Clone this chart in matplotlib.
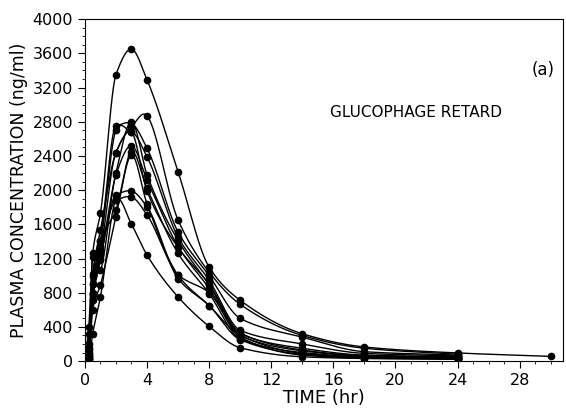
import matplotlib
matplotlib.use("Agg")
import matplotlib.pyplot as plt
import numpy as np

# sampling times (hr)
times = [0, 0.25, 0.5, 1, 2, 3, 4, 6, 8, 10, 14, 18, 24, 30]

# plasma concentration (ng/ml) per subject, NaN = not sampled
nan = np.nan
s1 = [0, 400, 1260, 1730, 3350, 3650, 3290, 2215, 1100, 711, 320, 165, 95, 55]
s2 = [0, 320, 1020, 1530, 2440, 2740, 2870, 1650, 1040, 664, 300, 150, 80, nan]
s3 = [0, 125, 900, 1410, 2750, 2780, 2490, 1510, 1000, 500, 280, 110, 70, nan]
s4 = [0, 30, 790, 1340, 2700, 2680, 2390, 1450, 945, 360, 200, 90, 60, nan]
s5 = [0, 60, 710, 1180, 2200, 2800, 2180, 1410, 890, 320, 150, 70, 50, nan]
s6 = [0, 100, 1220, 1060, 2180, 2520, 2120, 1340, 850, 300, 120, 60, 45, nan]
s7 = [0, 200, 1000, 1400, 1770, 2450, 2020, 1260, 790, 260, 100, 50, 40, nan]
s8 = [0, 40, 600, 890, 1690, 2410, 1840, 1004, 650, 300, 90, 45, 35, nan]
s9 = [0, 80, 780, 1200, 1940, 1990, 1805, 965, 650, 250, 80, 40, 30, nan]
s10 = [0, 20, 320, 750, 1880, 1600, 1240, 750, 406, 156, 50, 30, 20, nan]
s11 = [0, 150, 900, 1300, 1880, 1920, 1710, 1010, 800, 280, 70, 35, 25, nan]
s12 = [0, 60, 800, 1250, 2440, 2680, 1990, 1330, 900, 330, 130, 60, 40, nan]
subjects = [s1, s2, s3, s4, s5, s6, s7, s8, s9, s10, s11, s12]


def smooth_curve(x, y, xs):
    # Hermite curve: monotone (pchip) slopes, centred slopes at the peak
    n = len(x)
    h = np.diff(x)
    d = np.diff(y) / h
    m = np.zeros(n)
    for i in range(1, n - 1):
        if d[i - 1] * d[i] > 0:
            w1 = 2 * h[i] + h[i - 1]
            w2 = h[i] + 2 * h[i - 1]
            m[i] = (w1 + w2) / (w1 / d[i - 1] + w2 / d[i])
        else:
            m[i] = 0.6 * (y[i + 1] - y[i - 1]) / (x[i + 1] - x[i - 1])
    m[0] = d[0]
    m[-1] = d[-1]
    idx = np.clip(np.searchsorted(x, xs) - 1, 0, n - 2)
    hh = h[idx]
    s = (xs - x[idx]) / hh
    h00 = 2 * s ** 3 - 3 * s ** 2 + 1
    h10 = s ** 3 - 2 * s ** 2 + s
    h01 = -2 * s ** 3 + 3 * s ** 2
    h11 = s ** 3 - s ** 2
    return h00 * y[idx] + h10 * hh * m[idx] + h01 * y[idx + 1] + h11 * hh * m[idx + 1]


fig = plt.figure(figsize=(5.66, 4.08), dpi=100)
ax = fig.add_axes([0.150, 0.115, 0.845, 0.838])

t = np.array(times, dtype=float)
for s in subjects:
    y = np.array(s, dtype=float)
    ok = ~np.isnan(y)
    tx, ty = t[ok], y[ok]
    xs = np.linspace(tx[0], tx[-1], 800)
    ax.plot(xs, smooth_curve(tx, ty, xs), color="black", lw=1.0)
    ax.plot(tx, ty, "o", color="black", ms=4.5)

ax.set_xlim(0, 30.8)
ax.set_ylim(0, 4000)
ax.set_xticks(np.arange(0, 29, 4))
ax.set_xticks(np.arange(0, 31, 1), minor=True)
ax.set_yticks(np.arange(0, 4001, 400))
ax.set_yticks(np.arange(0, 4001, 100), minor=True)
ax.tick_params(axis="both", which="major", length=5, direction="out", labelsize=11.5)
ax.tick_params(axis="both", which="minor", length=2.5, direction="out")
ax.set_xlabel("TIME (hr)", fontsize=13, labelpad=1)
ax.set_ylabel("PLASMA CONCENTRATION (ng/ml)", fontsize=12.5, labelpad=3)

ax.text(15.8, 2860, "GLUCOPHAGE RETARD", fontsize=11)
ax.text(29.5, 3350, "(a)", fontsize=12, ha="center")

fig.savefig("out.png", dpi=100)
